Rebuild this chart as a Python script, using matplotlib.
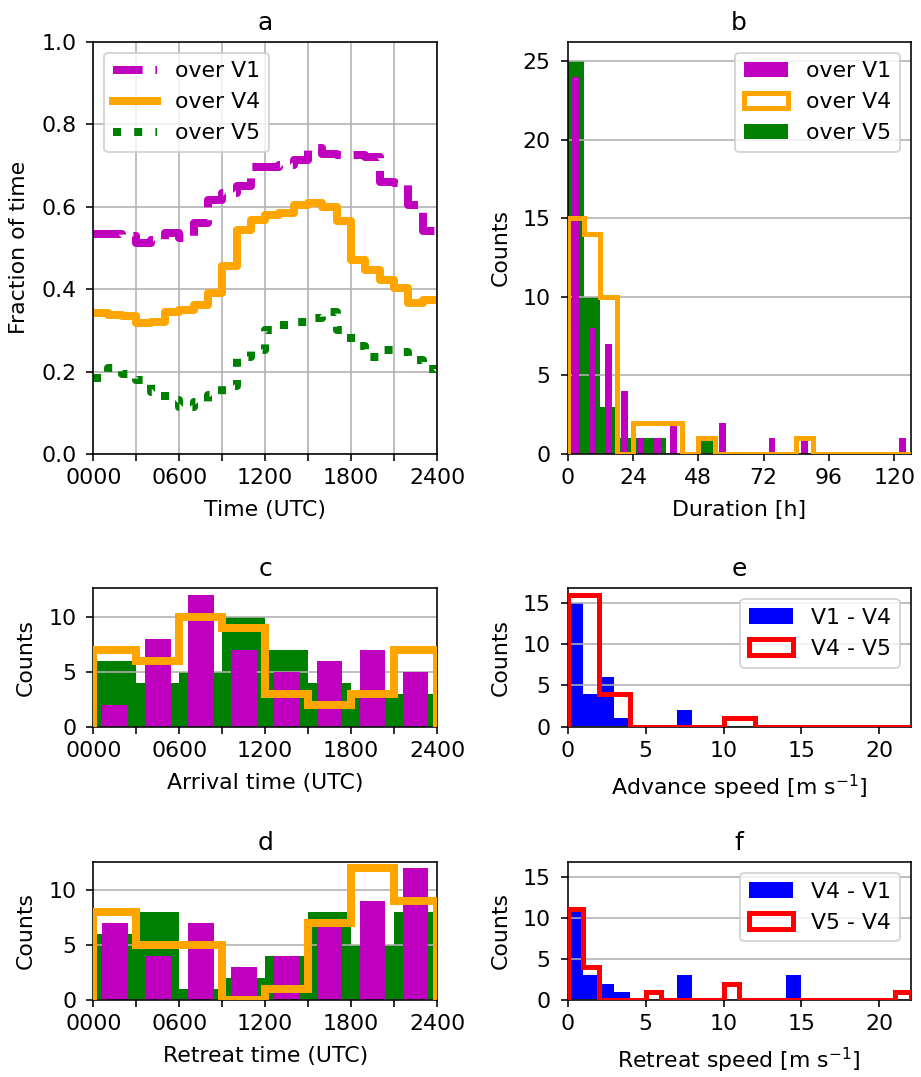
import numpy as np
import matplotlib
matplotlib.use('Agg')
import matplotlib.pyplot as plt

plt.rcParams['font.size'] = 11
plt.rcParams['ytick.major.pad'] = 5
plt.rcParams['axes.labelpad'] = 6

# DATA:
# ==================================================================
# PANEL a: FRACTION OF TIME (HOURLY, 0-24 UTC):
HOURS   = np.arange(0, 25)
FRAC_V1 = [0.534, 0.534, 0.528, 0.511, 0.519, 0.536, 0.525, 0.561, 0.617, 0.632,
           0.649, 0.697, 0.697, 0.700, 0.714, 0.742, 0.728, 0.726, 0.724, 0.720,
           0.660, 0.657, 0.605, 0.540, 0.540]
FRAC_V4 = [0.341, 0.338, 0.335, 0.317, 0.320, 0.345, 0.350, 0.362, 0.390, 0.455,
           0.544, 0.568, 0.580, 0.584, 0.605, 0.608, 0.600, 0.564, 0.471, 0.447,
           0.422, 0.402, 0.366, 0.374, 0.374]
FRAC_V5 = [0.185, 0.208, 0.194, 0.180, 0.151, 0.131, 0.115, 0.127, 0.143, 0.165,
           0.236, 0.252, 0.300, 0.313, 0.320, 0.329, 0.345, 0.300, 0.261, 0.236,
           0.252, 0.248, 0.228, 0.205, 0.178]

# PANEL b: DURATION HISTOGRAMs:
DUR_BINS = np.arange(0, 127, 6)
DUR_V1 = [24, 8, 7, 4, 1, 1, 2, 0, 0, 2, 0, 0, 1, 0, 1, 0, 0, 0, 0, 0, 1]
DUR_V4 = [15, 14, 10, 0, 2, 2, 2, 0, 1, 0, 0, 0, 0, 0, 1, 0, 0, 0, 0, 0, 0]
DUR_V5 = [25, 10, 3, 1, 1, 1, 0, 0, 1, 0, 0, 0, 0, 0, 0, 0, 0, 0, 0, 0, 0]

# PANELs c, d: ARRIVAL AND RETREAT TIME HISTOGRAMs:
TIME_BINS = np.arange(0, 25, 3)
ARR_V1 = [2, 8, 12, 7, 5, 6, 7, 5]
ARR_V4 = [7, 6, 10, 9, 3, 2, 3, 7]
ARR_V5 = [6, 4, 5, 10, 7, 4, 3, 3]
RET_V1 = [7, 4, 7, 3, 4, 7, 9, 12]
RET_V4 = [8, 5, 5, 0, 1, 7, 12, 9]
RET_V5 = [6, 8, 1, 2, 4, 8, 5, 8]

# PANELs e, f: SPEED HISTOGRAMs:
SPD_BINS1 = np.arange(0, 23, 1)
SPD_BINS2 = np.arange(0, 23, 2)
ADV_V1V4 = [15, 4, 6, 1, 0, 0, 0, 2, 0, 0, 0, 0, 0, 0, 0, 0, 0, 0, 0, 0, 0, 0]
ADV_V4V5 = [16, 4, 0, 0, 0, 1, 0, 0, 0, 0, 0]
RET_V4V1 = [11, 3, 2, 1, 0, 0, 0, 3, 0, 0, 0, 0, 0, 0, 3, 0, 0, 0, 0, 0, 0, 0]
RET_V5V4 = [11, 4, 0, 0, 0, 1, 0, 0, 0, 0, 2, 0, 0, 0, 0, 0, 0, 0, 0, 0, 0, 1]

TIME_TICKS  = np.arange(0, 25, 3)
TIME_LABELS = ['0000', '', '0600', '', '1200', '', '1800', '', '2400']


def centers(bins):
    bins = np.asarray(bins, dtype=float)
    return 0.5*(bins[1:] + bins[:-1])


# MAKE PLOT:
# ==================================================================
fig = plt.figure(figsize=(921/144, 1077/144))

ax_a = fig.add_axes([0.1013, 0.5785, 0.3732, 0.3828])
ax_b = fig.add_axes([0.6162, 0.5785, 0.3726, 0.3828])
ax_c = fig.add_axes([0.1013, 0.3253, 0.3732, 0.1287])
ax_d = fig.add_axes([0.1013, 0.0715, 0.3732, 0.1284])
ax_e = fig.add_axes([0.6162, 0.3253, 0.3726, 0.1287])
ax_f = fig.add_axes([0.6162, 0.0715, 0.3726, 0.1284], sharey=ax_e)

# a:
ax = ax_a
ax.plot(HOURS, FRAC_V1, color='m', ls='--', lw=4, drawstyle='steps-post', label='over V1')
ax.plot(HOURS, FRAC_V4, color='orange', ls='-', lw=4, drawstyle='steps-post', label='over V4')
ax.plot(HOURS, FRAC_V5, color='g', ls=':', lw=4, drawstyle='steps-post', label='over V5')
ax.set_xlim(0, 24)
ax.set_ylim(0, 1)
ax.set_xticks(TIME_TICKS)
ax.set_xticklabels(TIME_LABELS)
ax.set_yticks(np.arange(0, 1.01, 0.2))
ax.grid()
ax.legend(loc='upper left')
ax.set_xlabel('Time (UTC)')
ax.set_ylabel('Fraction of time')
ax.set_title('a', fontsize=12.5)

# b:
ax = ax_b
xc = centers(DUR_BINS)
n5, b5, p5 = ax.hist(xc, bins=DUR_BINS, weights=DUR_V5, color='g', zorder=1)
n1, b1, p1 = ax.hist(xc, bins=DUR_BINS, weights=DUR_V1, color='m', rwidth=0.4, zorder=2)
n4, b4, p4 = ax.hist(xc, bins=DUR_BINS, weights=DUR_V4, histtype='step',
                     color='orange', lw=2.5, zorder=3)
ax.set_xlim(0, 126)
ax.set_xticks(np.arange(0, 121, 24))
ax.set_yticks(np.arange(0, 26, 5))
ax.grid(axis='y')
ax.legend([p1, p4[0], p5], ['over V1', 'over V4', 'over V5'], loc='upper right')
ax.set_xlabel('Duration [h]')
ax.set_ylabel('Counts')
ax.set_title('b', fontsize=12.5)

# c, d:
tc = centers(TIME_BINS)
for ax, v1, v4, v5, lab, ttl in [(ax_c, ARR_V1, ARR_V4, ARR_V5, 'Arrival time (UTC)', 'c'),
                                 (ax_d, RET_V1, RET_V4, RET_V5, 'Retreat time (UTC)', 'd')]:
    ax.hist(tc, bins=TIME_BINS, weights=v5, color='g', zorder=1)
    ax.hist(tc, bins=TIME_BINS, weights=v1, color='m', rwidth=0.6, zorder=2)
    ax.hist(tc, bins=TIME_BINS, weights=v4, histtype='step', color='orange', lw=4, zorder=3)
    ax.set_xlim(0, 24)
    ax.set_xticks(TIME_TICKS)
    ax.set_xticklabels(TIME_LABELS)
    ax.set_yticks([0, 5, 10])
    ax.grid(axis='y')
    ax.set_xlabel(lab)
    ax.set_ylabel('Counts')
    ax.set_title(ttl, fontsize=12.5)

# e, f:
sc1 = centers(SPD_BINS1)
sc2 = centers(SPD_BINS2)
for ax, vb, vr, lb, lr, bins_r, cr, lab, ttl in [
        (ax_e, ADV_V1V4, ADV_V4V5, 'V1 - V4', 'V4 - V5', SPD_BINS2, sc2,
         'Advance speed [m s$^{-1}$]', 'e'),
        (ax_f, RET_V4V1, RET_V5V4, 'V4 - V1', 'V5 - V4', SPD_BINS1, sc1,
         'Retreat speed [m s$^{-1}$]', 'f')]:
    nb, bb, pb = ax.hist(sc1, bins=SPD_BINS1, weights=vb, color='b', zorder=1)
    nr, br, pr = ax.hist(cr, bins=bins_r, weights=vr, histtype='step', color='r',
                         lw=2.5, zorder=3)
    ax.set_xlim(0, 22)
    ax.set_xticks([0, 5, 10, 15, 20])
    ax.set_yticks([0, 5, 10, 15])
    ax.grid(axis='y')
    ax.legend([pb, pr[0]], [lb, lr], loc='upper right')
    ax.set_xlabel(lab)
    ax.set_ylabel('Counts')
    ax.set_title(ttl, fontsize=12.5)

ax_f.tick_params(labelleft=True)

plt.savefig('out.png', dpi=144)
